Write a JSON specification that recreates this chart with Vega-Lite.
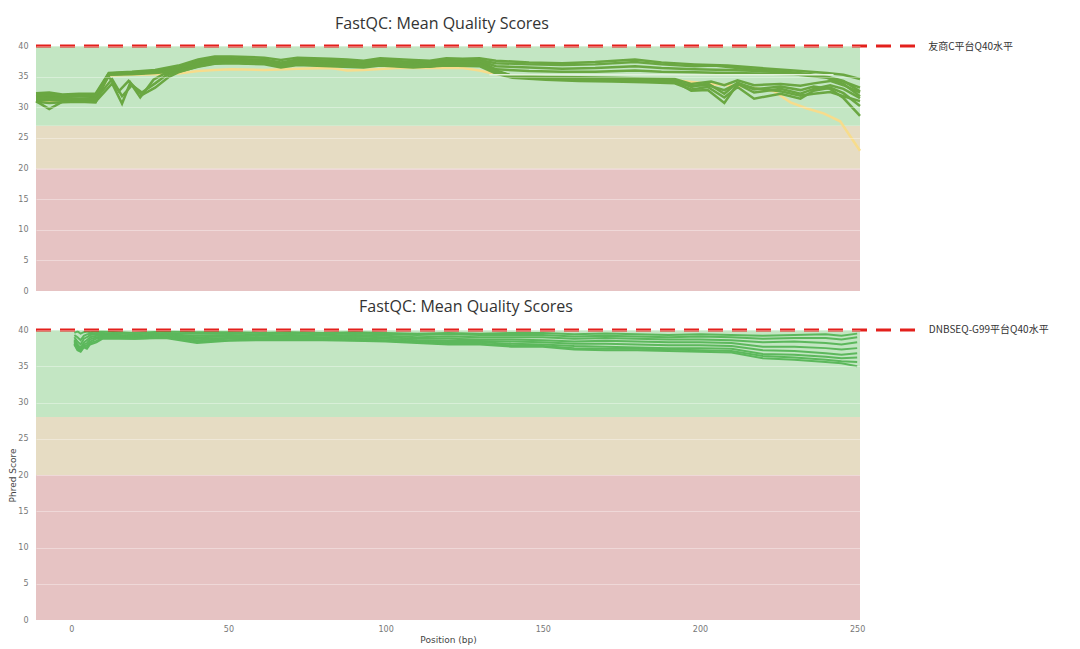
{
"$schema": "https://vega.github.io/schema/vega-lite/v6.json",
"background": "white",
"padding": {"left": 8, "top": 16, "right": 5, "bottom": 4},
"spacing": 4,
"config": {
 "view": {"stroke": null},
 "axis": {"domain": false, "ticks": false, "labelColor": "#777", "labelFont": "DejaVu Sans", "labelFontSize": 8, "gridColor": "#ffffff", "gridOpacity": 0.35, "titleFont": "DejaVu Sans", "titleFontSize": 9, "titleColor": "#444", "titleFontWeight": "normal"},
 "title": {"font": "Open Sans", "fontSize": 16, "fontWeight": "normal", "color": "#333", "anchor": "middle"}
},
"datasets": {
 "zt": [{"z":"fail","lo":0,"hi":20},{"z":"warn","lo":20,"hi":27},{"z":"pass","lo":27,"hi":40}],
 "zb": [{"z":"fail","lo":0,"hi":20},{"z":"warn","lo":20,"hi":28},{"z":"pass","lo":28,"hi":40}],
 "rt": [{"q":40,"label":"友商C平台Q40水平"}],
 "rb": [{"q":40,"label":"DNBSEQ-G99平台Q40水平"}],
 "top": [
{"s":"Y1","k":"w","x":1,"y":31.1},{"s":"Y1","k":"w","x":5,"y":31.0},{"s":"Y1","k":"w","x":9,"y":31.0},{"s":"Y1","k":"w","x":14,"y":31.1},{"s":"Y1","k":"w","x":19,"y":31.0},{"s":"Y1","k":"w","x":23,"y":35.2},{"s":"Y1","k":"w","x":30,"y":35.3},{"s":"Y1","k":"w","x":37,"y":35.4},{"s":"Y1","k":"w","x":44,"y":35.5},{"s":"Y1","k":"w","x":50,"y":35.9},{"s":"Y1","k":"w","x":55,"y":36.1},{"s":"Y1","k":"w","x":60,"y":36.2},{"s":"Y1","k":"w","x":70,"y":36.1},{"s":"Y1","k":"w","x":80,"y":36.3},{"s":"Y1","k":"w","x":90,"y":36.4},{"s":"Y1","k":"w","x":95,"y":36.0},{"s":"Y1","k":"w","x":100,"y":36.1},{"s":"Y1","k":"w","x":110,"y":36.4},{"s":"Y1","k":"w","x":120,"y":36.4},{"s":"Y1","k":"w","x":130,"y":36.4},{"s":"Y1","k":"w","x":135,"y":36.0},{"s":"Y1","k":"w","x":140,"y":35.4},{"s":"Y1","k":"w","x":150,"y":34.9},{"s":"Y1","k":"w","x":165,"y":34.7},{"s":"Y1","k":"w","x":180,"y":34.6},{"s":"Y1","k":"w","x":194,"y":34.4},{"s":"Y1","k":"w","x":205,"y":33.8},{"s":"Y1","k":"w","x":215,"y":33.4},{"s":"Y1","k":"w","x":224,"y":32.6},{"s":"Y1","k":"w","x":229,"y":30.8},{"s":"Y1","k":"w","x":234,"y":29.8},{"s":"Y1","k":"w","x":239,"y":29.0},{"s":"Y1","k":"w","x":244,"y":27.7},{"s":"Y1","k":"w","x":250,"y":22.9},
{"s":"U1","k":"p","x":1,"y":32.3},{"s":"U1","k":"p","x":5,"y":32.4},{"s":"U1","k":"p","x":9,"y":32.1},{"s":"U1","k":"p","x":14,"y":32.2},{"s":"U1","k":"p","x":19,"y":32.2},{"s":"U1","k":"p","x":23,"y":35.6},{"s":"U1","k":"p","x":30,"y":35.8},{"s":"U1","k":"p","x":37,"y":36.1},{"s":"U1","k":"p","x":44,"y":36.8},{"s":"U1","k":"p","x":50,"y":37.8},{"s":"U1","k":"p","x":55,"y":38.3},{"s":"U1","k":"p","x":60,"y":38.3},{"s":"U1","k":"p","x":65,"y":38.2},{"s":"U1","k":"p","x":70,"y":38.1},{"s":"U1","k":"p","x":75,"y":37.7},{"s":"U1","k":"p","x":80,"y":38.1},{"s":"U1","k":"p","x":90,"y":37.9},{"s":"U1","k":"p","x":95,"y":37.8},{"s":"U1","k":"p","x":100,"y":37.6},{"s":"U1","k":"p","x":105,"y":38.0},{"s":"U1","k":"p","x":115,"y":37.7},{"s":"U1","k":"p","x":120,"y":37.6},{"s":"U1","k":"p","x":125,"y":38.0},{"s":"U1","k":"p","x":130,"y":37.9},{"s":"U1","k":"p","x":135,"y":38.0},{"s":"U1","k":"p","x":140,"y":37.6},{"s":"U1","k":"p","x":150,"y":37.3},{"s":"U1","k":"p","x":160,"y":37.2},{"s":"U1","k":"p","x":170,"y":37.4},{"s":"U1","k":"p","x":182,"y":37.8},{"s":"U1","k":"p","x":190,"y":37.3},{"s":"U1","k":"p","x":200,"y":37.0},{"s":"U1","k":"p","x":210,"y":36.8},{"s":"U1","k":"p","x":220,"y":36.4},{"s":"U1","k":"p","x":230,"y":36.0},{"s":"U1","k":"p","x":240,"y":35.6},{"s":"U1","k":"p","x":245,"y":35.3},{"s":"U1","k":"p","x":250,"y":34.6},
{"s":"U2","k":"p","x":1,"y":31.8},{"s":"U2","k":"p","x":5,"y":31.9},{"s":"U2","k":"p","x":9,"y":31.7},{"s":"U2","k":"p","x":14,"y":31.8},{"s":"U2","k":"p","x":19,"y":31.8},{"s":"U2","k":"p","x":23,"y":35.5},{"s":"U2","k":"p","x":30,"y":35.7},{"s":"U2","k":"p","x":37,"y":35.9},{"s":"U2","k":"p","x":44,"y":36.5},{"s":"U2","k":"p","x":50,"y":37.5},{"s":"U2","k":"p","x":55,"y":38.0},{"s":"U2","k":"p","x":60,"y":38.0},{"s":"U2","k":"p","x":65,"y":37.8},{"s":"U2","k":"p","x":70,"y":37.8},{"s":"U2","k":"p","x":75,"y":37.3},{"s":"U2","k":"p","x":80,"y":37.8},{"s":"U2","k":"p","x":90,"y":37.6},{"s":"U2","k":"p","x":95,"y":37.5},{"s":"U2","k":"p","x":100,"y":37.3},{"s":"U2","k":"p","x":105,"y":37.7},{"s":"U2","k":"p","x":115,"y":37.4},{"s":"U2","k":"p","x":120,"y":37.3},{"s":"U2","k":"p","x":125,"y":37.7},{"s":"U2","k":"p","x":130,"y":37.6},{"s":"U2","k":"p","x":135,"y":37.7},{"s":"U2","k":"p","x":140,"y":37.2},{"s":"U2","k":"p","x":150,"y":37.0},{"s":"U2","k":"p","x":160,"y":36.9},{"s":"U2","k":"p","x":170,"y":37.0},{"s":"U2","k":"p","x":182,"y":37.4},{"s":"U2","k":"p","x":190,"y":37.0},{"s":"U2","k":"p","x":200,"y":36.7},{"s":"U2","k":"p","x":206,"y":36.8},{"s":"U2","k":"p","x":215,"y":36.3},{"s":"U2","k":"p","x":225,"y":35.9},{"s":"U2","k":"p","x":235,"y":35.4},{"s":"U2","k":"p","x":241,"y":34.8},{"s":"U2","k":"p","x":245,"y":34.2},{"s":"U2","k":"p","x":250,"y":33.2},
{"s":"U4","k":"p","x":1,"y":32.0},{"s":"U4","k":"p","x":9,"y":31.9},{"s":"U4","k":"p","x":19,"y":32.0},{"s":"U4","k":"p","x":23,"y":35.5},{"s":"U4","k":"p","x":37,"y":35.8},{"s":"U4","k":"p","x":44,"y":36.4},{"s":"U4","k":"p","x":50,"y":37.4},{"s":"U4","k":"p","x":55,"y":37.9},{"s":"U4","k":"p","x":60,"y":37.9},{"s":"U4","k":"p","x":70,"y":37.7},{"s":"U4","k":"p","x":75,"y":37.2},{"s":"U4","k":"p","x":80,"y":37.6},{"s":"U4","k":"p","x":90,"y":37.5},{"s":"U4","k":"p","x":100,"y":37.2},{"s":"U4","k":"p","x":105,"y":37.5},{"s":"U4","k":"p","x":115,"y":37.2},{"s":"U4","k":"p","x":125,"y":37.5},{"s":"U4","k":"p","x":135,"y":37.6},{"s":"U4","k":"p","x":140,"y":36.7},{"s":"U4","k":"p","x":150,"y":36.5},{"s":"U4","k":"p","x":160,"y":36.3},{"s":"U4","k":"p","x":170,"y":36.4},{"s":"U4","k":"p","x":182,"y":36.7},{"s":"U4","k":"p","x":190,"y":36.4},{"s":"U4","k":"p","x":200,"y":36.2},{"s":"U4","k":"p","x":210,"y":36.1},{"s":"U4","k":"p","x":220,"y":35.9},{"s":"U4","k":"p","x":230,"y":35.6},{"s":"U4","k":"p","x":240,"y":35.0},{"s":"U4","k":"p","x":245,"y":34.3},{"s":"U4","k":"p","x":250,"y":32.6},
{"s":"U3","k":"p","x":1,"y":31.4},{"s":"U3","k":"p","x":5,"y":31.5},{"s":"U3","k":"p","x":9,"y":31.5},{"s":"U3","k":"p","x":14,"y":31.4},{"s":"U3","k":"p","x":19,"y":31.5},{"s":"U3","k":"p","x":23,"y":35.4},{"s":"U3","k":"p","x":30,"y":35.5},{"s":"U3","k":"p","x":37,"y":35.7},{"s":"U3","k":"p","x":44,"y":36.2},{"s":"U3","k":"p","x":50,"y":37.2},{"s":"U3","k":"p","x":55,"y":37.7},{"s":"U3","k":"p","x":60,"y":37.8},{"s":"U3","k":"p","x":65,"y":37.5},{"s":"U3","k":"p","x":70,"y":37.6},{"s":"U3","k":"p","x":75,"y":37.0},{"s":"U3","k":"p","x":80,"y":37.5},{"s":"U3","k":"p","x":90,"y":37.3},{"s":"U3","k":"p","x":95,"y":37.1},{"s":"U3","k":"p","x":100,"y":37.0},{"s":"U3","k":"p","x":105,"y":37.4},{"s":"U3","k":"p","x":115,"y":37.1},{"s":"U3","k":"p","x":120,"y":37.0},{"s":"U3","k":"p","x":125,"y":37.4},{"s":"U3","k":"p","x":130,"y":37.4},{"s":"U3","k":"p","x":135,"y":37.5},{"s":"U3","k":"p","x":140,"y":36.2},{"s":"U3","k":"p","x":150,"y":35.9},{"s":"U3","k":"p","x":160,"y":35.8},{"s":"U3","k":"p","x":170,"y":35.8},{"s":"U3","k":"p","x":182,"y":36.0},{"s":"U3","k":"p","x":190,"y":35.8},{"s":"U3","k":"p","x":200,"y":35.7},{"s":"U3","k":"p","x":210,"y":35.6},{"s":"U3","k":"p","x":220,"y":35.5},{"s":"U3","k":"p","x":230,"y":35.4},{"s":"U3","k":"p","x":240,"y":34.8},{"s":"U3","k":"p","x":245,"y":33.8},{"s":"U3","k":"p","x":250,"y":31.8},
{"s":"L1","k":"p","x":1,"y":31.2},{"s":"L1","k":"p","x":5,"y":31.2},{"s":"L1","k":"p","x":9,"y":31.1},{"s":"L1","k":"p","x":14,"y":31.2},{"s":"L1","k":"p","x":19,"y":31.2},{"s":"L1","k":"p","x":23,"y":35.4},{"s":"L1","k":"p","x":30,"y":35.5},{"s":"L1","k":"p","x":37,"y":35.7},{"s":"L1","k":"p","x":44,"y":36.0},{"s":"L1","k":"p","x":50,"y":37.0},{"s":"L1","k":"p","x":55,"y":37.5},{"s":"L1","k":"p","x":60,"y":37.6},{"s":"L1","k":"p","x":65,"y":37.3},{"s":"L1","k":"p","x":70,"y":37.4},{"s":"L1","k":"p","x":75,"y":36.8},{"s":"L1","k":"p","x":80,"y":37.3},{"s":"L1","k":"p","x":90,"y":37.1},{"s":"L1","k":"p","x":95,"y":36.8},{"s":"L1","k":"p","x":100,"y":36.8},{"s":"L1","k":"p","x":105,"y":37.2},{"s":"L1","k":"p","x":115,"y":36.9},{"s":"L1","k":"p","x":120,"y":36.8},{"s":"L1","k":"p","x":125,"y":37.2},{"s":"L1","k":"p","x":130,"y":37.2},{"s":"L1","k":"p","x":135,"y":37.2},{"s":"L1","k":"p","x":140,"y":36.0},{"s":"L1","k":"p","x":145,"y":35.1},{"s":"L1","k":"p","x":155,"y":35.0},{"s":"L1","k":"p","x":165,"y":34.9},{"s":"L1","k":"p","x":175,"y":34.8},{"s":"L1","k":"p","x":185,"y":34.7},{"s":"L1","k":"p","x":194,"y":34.6},{"s":"L1","k":"p","x":199,"y":33.8},{"s":"L1","k":"p","x":205,"y":34.2},{"s":"L1","k":"p","x":209,"y":33.6},{"s":"L1","k":"p","x":213,"y":34.4},{"s":"L1","k":"p","x":218,"y":33.6},{"s":"L1","k":"p","x":226,"y":33.8},{"s":"L1","k":"p","x":232,"y":33.5},{"s":"L1","k":"p","x":236,"y":33.9},{"s":"L1","k":"p","x":241,"y":34.3},{"s":"L1","k":"p","x":245,"y":33.6},{"s":"L1","k":"p","x":250,"y":32.4},
{"s":"L2","k":"p","x":1,"y":30.9},{"s":"L2","k":"p","x":5,"y":30.7},{"s":"L2","k":"p","x":9,"y":30.8},{"s":"L2","k":"p","x":14,"y":30.9},{"s":"L2","k":"p","x":19,"y":30.8},{"s":"L2","k":"p","x":23,"y":35.3},{"s":"L2","k":"p","x":30,"y":35.4},{"s":"L2","k":"p","x":37,"y":35.6},{"s":"L2","k":"p","x":44,"y":35.9},{"s":"L2","k":"p","x":50,"y":36.8},{"s":"L2","k":"p","x":55,"y":37.3},{"s":"L2","k":"p","x":60,"y":37.4},{"s":"L2","k":"p","x":65,"y":37.1},{"s":"L2","k":"p","x":70,"y":37.2},{"s":"L2","k":"p","x":75,"y":36.6},{"s":"L2","k":"p","x":80,"y":37.1},{"s":"L2","k":"p","x":90,"y":36.9},{"s":"L2","k":"p","x":95,"y":36.6},{"s":"L2","k":"p","x":100,"y":36.6},{"s":"L2","k":"p","x":105,"y":37.0},{"s":"L2","k":"p","x":115,"y":36.7},{"s":"L2","k":"p","x":120,"y":36.6},{"s":"L2","k":"p","x":125,"y":37.0},{"s":"L2","k":"p","x":130,"y":37.0},{"s":"L2","k":"p","x":135,"y":36.9},{"s":"L2","k":"p","x":140,"y":35.7},{"s":"L2","k":"p","x":145,"y":35.0},{"s":"L2","k":"p","x":155,"y":34.7},{"s":"L2","k":"p","x":165,"y":34.6},{"s":"L2","k":"p","x":175,"y":34.5},{"s":"L2","k":"p","x":185,"y":34.4},{"s":"L2","k":"p","x":194,"y":34.2},{"s":"L2","k":"p","x":199,"y":32.7},{"s":"L2","k":"p","x":204,"y":32.8},{"s":"L2","k":"p","x":209,"y":30.7},{"s":"L2","k":"p","x":213,"y":33.8},{"s":"L2","k":"p","x":218,"y":32.4},{"s":"L2","k":"p","x":226,"y":33.0},{"s":"L2","k":"p","x":232,"y":32.2},{"s":"L2","k":"p","x":236,"y":33.0},{"s":"L2","k":"p","x":241,"y":33.6},{"s":"L2","k":"p","x":245,"y":33.0},{"s":"L2","k":"p","x":250,"y":31.5},
{"s":"V1","k":"p","x":1,"y":31.0},{"s":"V1","k":"p","x":5,"y":29.7},{"s":"V1","k":"p","x":9,"y":30.9},{"s":"V1","k":"p","x":14,"y":31.0},{"s":"V1","k":"p","x":19,"y":30.9},{"s":"V1","k":"p","x":24,"y":33.9},{"s":"V1","k":"p","x":27,"y":30.6},{"s":"V1","k":"p","x":29.5,"y":34.0},{"s":"V1","k":"p","x":32.5,"y":31.6},{"s":"V1","k":"p","x":36.5,"y":34.5},{"s":"V1","k":"p","x":39.5,"y":35.4},{"s":"V1","k":"p","x":44,"y":35.8},{"s":"V1","k":"p","x":50,"y":36.6},{"s":"V1","k":"p","x":55,"y":37.1},{"s":"V1","k":"p","x":60,"y":37.2},{"s":"V1","k":"p","x":70,"y":37.0},{"s":"V1","k":"p","x":75,"y":36.5},{"s":"V1","k":"p","x":80,"y":36.9},{"s":"V1","k":"p","x":90,"y":36.7},{"s":"V1","k":"p","x":100,"y":36.5},{"s":"V1","k":"p","x":105,"y":36.8},{"s":"V1","k":"p","x":115,"y":36.5},{"s":"V1","k":"p","x":125,"y":36.8},{"s":"V1","k":"p","x":135,"y":36.7},{"s":"V1","k":"p","x":140,"y":35.5},{"s":"V1","k":"p","x":145,"y":34.8},{"s":"V1","k":"p","x":155,"y":34.5},{"s":"V1","k":"p","x":165,"y":34.3},{"s":"V1","k":"p","x":175,"y":34.2},{"s":"V1","k":"p","x":185,"y":34.1},{"s":"V1","k":"p","x":194,"y":33.9},{"s":"V1","k":"p","x":199,"y":32.9},{"s":"V1","k":"p","x":204,"y":33.3},{"s":"V1","k":"p","x":209,"y":31.6},{"s":"V1","k":"p","x":213,"y":33.3},{"s":"V1","k":"p","x":218,"y":31.4},{"s":"V1","k":"p","x":226,"y":32.2},{"s":"V1","k":"p","x":232,"y":31.4},{"s":"V1","k":"p","x":236,"y":32.7},{"s":"V1","k":"p","x":241,"y":33.2},{"s":"V1","k":"p","x":245,"y":32.3},{"s":"V1","k":"p","x":250,"y":30.2},
{"s":"V2","k":"p","x":1,"y":31.5},{"s":"V2","k":"p","x":5,"y":31.4},{"s":"V2","k":"p","x":9,"y":31.3},{"s":"V2","k":"p","x":14,"y":31.4},{"s":"V2","k":"p","x":19,"y":31.3},{"s":"V2","k":"p","x":24,"y":34.6},{"s":"V2","k":"p","x":27,"y":31.8},{"s":"V2","k":"p","x":30,"y":33.6},{"s":"V2","k":"p","x":33,"y":32.4},{"s":"V2","k":"p","x":37,"y":33.9},{"s":"V2","k":"p","x":40,"y":35.1},{"s":"V2","k":"p","x":44,"y":35.9},{"s":"V2","k":"p","x":50,"y":36.9},{"s":"V2","k":"p","x":55,"y":37.4},{"s":"V2","k":"p","x":60,"y":37.5},{"s":"V2","k":"p","x":70,"y":37.3},{"s":"V2","k":"p","x":75,"y":36.9},{"s":"V2","k":"p","x":80,"y":37.2},{"s":"V2","k":"p","x":90,"y":37.0},{"s":"V2","k":"p","x":100,"y":36.9},{"s":"V2","k":"p","x":105,"y":37.1},{"s":"V2","k":"p","x":115,"y":36.8},{"s":"V2","k":"p","x":125,"y":37.1},{"s":"V2","k":"p","x":135,"y":37.1},{"s":"V2","k":"p","x":140,"y":35.9},{"s":"V2","k":"p","x":145,"y":35.1},{"s":"V2","k":"p","x":155,"y":34.8},{"s":"V2","k":"p","x":165,"y":34.7},{"s":"V2","k":"p","x":175,"y":34.6},{"s":"V2","k":"p","x":185,"y":34.5},{"s":"V2","k":"p","x":194,"y":34.4},{"s":"V2","k":"p","x":199,"y":33.3},{"s":"V2","k":"p","x":204,"y":33.9},{"s":"V2","k":"p","x":209,"y":32.2},{"s":"V2","k":"p","x":213,"y":34.0},{"s":"V2","k":"p","x":218,"y":32.9},{"s":"V2","k":"p","x":226,"y":33.4},{"s":"V2","k":"p","x":232,"y":32.8},{"s":"V2","k":"p","x":236,"y":33.4},{"s":"V2","k":"p","x":241,"y":33.0},{"s":"V2","k":"p","x":245,"y":31.5},{"s":"V2","k":"p","x":250,"y":28.6},
{"s":"V3","k":"p","x":1,"y":32.0},{"s":"V3","k":"p","x":5,"y":32.1},{"s":"V3","k":"p","x":9,"y":31.9},{"s":"V3","k":"p","x":14,"y":32.0},{"s":"V3","k":"p","x":19,"y":31.9},{"s":"V3","k":"p","x":23,"y":35.0},{"s":"V3","k":"p","x":26,"y":32.6},{"s":"V3","k":"p","x":29,"y":34.3},{"s":"V3","k":"p","x":33,"y":32.0},{"s":"V3","k":"p","x":37,"y":33.2},{"s":"V3","k":"p","x":41,"y":34.9},{"s":"V3","k":"p","x":44,"y":35.7},{"s":"V3","k":"p","x":50,"y":36.7},{"s":"V3","k":"p","x":55,"y":37.2},{"s":"V3","k":"p","x":60,"y":37.3},{"s":"V3","k":"p","x":70,"y":37.2},{"s":"V3","k":"p","x":75,"y":36.7},{"s":"V3","k":"p","x":80,"y":37.0},{"s":"V3","k":"p","x":90,"y":36.8},{"s":"V3","k":"p","x":100,"y":36.7},{"s":"V3","k":"p","x":105,"y":36.9},{"s":"V3","k":"p","x":115,"y":36.6},{"s":"V3","k":"p","x":125,"y":37.0},{"s":"V3","k":"p","x":135,"y":36.9},{"s":"V3","k":"p","x":140,"y":35.8},{"s":"V3","k":"p","x":145,"y":35.1},{"s":"V3","k":"p","x":155,"y":34.9},{"s":"V3","k":"p","x":165,"y":34.5},{"s":"V3","k":"p","x":175,"y":34.4},{"s":"V3","k":"p","x":185,"y":34.3},{"s":"V3","k":"p","x":194,"y":34.1},{"s":"V3","k":"p","x":199,"y":33.5},{"s":"V3","k":"p","x":204,"y":33.6},{"s":"V3","k":"p","x":209,"y":32.8},{"s":"V3","k":"p","x":213,"y":33.9},{"s":"V3","k":"p","x":218,"y":33.1},{"s":"V3","k":"p","x":226,"y":32.6},{"s":"V3","k":"p","x":232,"y":31.9},{"s":"V3","k":"p","x":236,"y":32.2},{"s":"V3","k":"p","x":241,"y":32.5},{"s":"V3","k":"p","x":245,"y":31.8},{"s":"V3","k":"p","x":250,"y":31.0},
{"s":"F","k":"f","x":138,"y":35.3},{"s":"F","k":"f","x":242,"y":35.3}
 ],
 "bot": [
{"s":"b1","x":1,"y":39.6},{"s":"b1","x":2,"y":39.8},{"s":"b1","x":3,"y":39.5},{"s":"b1","x":4,"y":39.7},{"s":"b1","x":5,"y":39.8},{"s":"b1","x":6,"y":39.7},{"s":"b1","x":8,"y":39.8},{"s":"b1","x":10,"y":39.8},{"s":"b1","x":15,"y":39.7},{"s":"b1","x":20,"y":39.6},{"s":"b1","x":30,"y":39.8},{"s":"b1","x":40,"y":39.7},{"s":"b1","x":50,"y":39.7},{"s":"b1","x":60,"y":39.6},{"s":"b1","x":70,"y":39.7},{"s":"b1","x":80,"y":39.6},{"s":"b1","x":90,"y":39.7},{"s":"b1","x":100,"y":39.6},{"s":"b1","x":110,"y":39.5},{"s":"b1","x":120,"y":39.6},{"s":"b1","x":130,"y":39.5},{"s":"b1","x":140,"y":39.6},{"s":"b1","x":150,"y":39.6},{"s":"b1","x":160,"y":39.4},{"s":"b1","x":170,"y":39.5},{"s":"b1","x":180,"y":39.4},{"s":"b1","x":190,"y":39.3},{"s":"b1","x":200,"y":39.4},{"s":"b1","x":210,"y":39.3},{"s":"b1","x":220,"y":39.2},{"s":"b1","x":230,"y":39.3},{"s":"b1","x":240,"y":39.4},{"s":"b1","x":245,"y":39.2},{"s":"b1","x":250,"y":39.5},
{"s":"b2","x":1,"y":39.3},{"s":"b2","x":2,"y":39.0},{"s":"b2","x":3,"y":38.6},{"s":"b2","x":4,"y":39.2},{"s":"b2","x":5,"y":39.4},{"s":"b2","x":6,"y":39.5},{"s":"b2","x":8,"y":39.6},{"s":"b2","x":10,"y":39.6},{"s":"b2","x":15,"y":39.5},{"s":"b2","x":20,"y":39.4},{"s":"b2","x":30,"y":39.6},{"s":"b2","x":40,"y":39.5},{"s":"b2","x":50,"y":39.5},{"s":"b2","x":60,"y":39.4},{"s":"b2","x":70,"y":39.5},{"s":"b2","x":80,"y":39.4},{"s":"b2","x":90,"y":39.5},{"s":"b2","x":100,"y":39.4},{"s":"b2","x":110,"y":39.3},{"s":"b2","x":120,"y":39.4},{"s":"b2","x":130,"y":39.3},{"s":"b2","x":140,"y":39.3},{"s":"b2","x":150,"y":39.3},{"s":"b2","x":160,"y":39.1},{"s":"b2","x":170,"y":39.2},{"s":"b2","x":180,"y":39.1},{"s":"b2","x":190,"y":39.0},{"s":"b2","x":200,"y":39.1},{"s":"b2","x":210,"y":39.0},{"s":"b2","x":220,"y":38.8},{"s":"b2","x":230,"y":38.9},{"s":"b2","x":240,"y":38.9},{"s":"b2","x":245,"y":38.7},{"s":"b2","x":250,"y":39.0},
{"s":"b3","x":1,"y":39.0},{"s":"b3","x":2,"y":38.4},{"s":"b3","x":3,"y":38.0},{"s":"b3","x":4,"y":38.8},{"s":"b3","x":5,"y":39.0},{"s":"b3","x":6,"y":39.3},{"s":"b3","x":8,"y":39.4},{"s":"b3","x":10,"y":39.4},{"s":"b3","x":15,"y":39.3},{"s":"b3","x":20,"y":39.2},{"s":"b3","x":30,"y":39.4},{"s":"b3","x":40,"y":39.2},{"s":"b3","x":50,"y":39.3},{"s":"b3","x":60,"y":39.2},{"s":"b3","x":70,"y":39.3},{"s":"b3","x":80,"y":39.2},{"s":"b3","x":90,"y":39.3},{"s":"b3","x":100,"y":39.2},{"s":"b3","x":110,"y":39.0},{"s":"b3","x":120,"y":39.1},{"s":"b3","x":130,"y":39.0},{"s":"b3","x":140,"y":39.0},{"s":"b3","x":150,"y":39.0},{"s":"b3","x":160,"y":38.8},{"s":"b3","x":170,"y":38.9},{"s":"b3","x":180,"y":38.8},{"s":"b3","x":190,"y":38.7},{"s":"b3","x":200,"y":38.7},{"s":"b3","x":210,"y":38.6},{"s":"b3","x":220,"y":38.3},{"s":"b3","x":230,"y":38.4},{"s":"b3","x":240,"y":38.2},{"s":"b3","x":245,"y":38.0},{"s":"b3","x":250,"y":38.3},
{"s":"b4","x":1,"y":38.7},{"s":"b4","x":2,"y":38.0},{"s":"b4","x":3,"y":37.5},{"s":"b4","x":4,"y":38.3},{"s":"b4","x":5,"y":38.6},{"s":"b4","x":6,"y":39.0},{"s":"b4","x":8,"y":39.2},{"s":"b4","x":10,"y":39.3},{"s":"b4","x":15,"y":39.2},{"s":"b4","x":20,"y":39.1},{"s":"b4","x":30,"y":39.3},{"s":"b4","x":40,"y":39.0},{"s":"b4","x":50,"y":39.1},{"s":"b4","x":60,"y":39.0},{"s":"b4","x":70,"y":39.1},{"s":"b4","x":80,"y":39.0},{"s":"b4","x":90,"y":39.1},{"s":"b4","x":100,"y":39.0},{"s":"b4","x":110,"y":38.8},{"s":"b4","x":120,"y":38.8},{"s":"b4","x":130,"y":38.7},{"s":"b4","x":140,"y":38.7},{"s":"b4","x":150,"y":38.6},{"s":"b4","x":160,"y":38.4},{"s":"b4","x":170,"y":38.5},{"s":"b4","x":180,"y":38.4},{"s":"b4","x":190,"y":38.3},{"s":"b4","x":200,"y":38.3},{"s":"b4","x":210,"y":38.2},{"s":"b4","x":220,"y":37.7},{"s":"b4","x":230,"y":37.7},{"s":"b4","x":240,"y":37.5},{"s":"b4","x":245,"y":37.3},{"s":"b4","x":250,"y":37.5},
{"s":"b5","x":1,"y":38.5},{"s":"b5","x":2,"y":37.8},{"s":"b5","x":3,"y":37.3},{"s":"b5","x":4,"y":38.0},{"s":"b5","x":5,"y":38.2},{"s":"b5","x":6,"y":38.7},{"s":"b5","x":8,"y":39.0},{"s":"b5","x":10,"y":39.1},{"s":"b5","x":15,"y":39.1},{"s":"b5","x":20,"y":39.0},{"s":"b5","x":30,"y":39.2},{"s":"b5","x":40,"y":38.8},{"s":"b5","x":50,"y":38.9},{"s":"b5","x":60,"y":38.9},{"s":"b5","x":70,"y":38.9},{"s":"b5","x":80,"y":38.9},{"s":"b5","x":90,"y":38.9},{"s":"b5","x":100,"y":38.8},{"s":"b5","x":110,"y":38.6},{"s":"b5","x":120,"y":38.5},{"s":"b5","x":130,"y":38.5},{"s":"b5","x":140,"y":38.4},{"s":"b5","x":150,"y":38.3},{"s":"b5","x":160,"y":38.1},{"s":"b5","x":170,"y":38.1},{"s":"b5","x":180,"y":38.0},{"s":"b5","x":190,"y":37.9},{"s":"b5","x":200,"y":37.9},{"s":"b5","x":210,"y":37.8},{"s":"b5","x":220,"y":37.2},{"s":"b5","x":230,"y":37.1},{"s":"b5","x":240,"y":36.8},{"s":"b5","x":245,"y":36.6},{"s":"b5","x":250,"y":36.8},
{"s":"b6","x":1,"y":38.3},{"s":"b6","x":2,"y":37.5},{"s":"b6","x":3,"y":37.2},{"s":"b6","x":4,"y":37.8},{"s":"b6","x":5,"y":37.9},{"s":"b6","x":6,"y":38.4},{"s":"b6","x":8,"y":38.8},{"s":"b6","x":10,"y":39.0},{"s":"b6","x":15,"y":39.0},{"s":"b6","x":20,"y":38.9},{"s":"b6","x":30,"y":39.1},{"s":"b6","x":40,"y":38.6},{"s":"b6","x":50,"y":38.8},{"s":"b6","x":60,"y":38.8},{"s":"b6","x":70,"y":38.8},{"s":"b6","x":80,"y":38.8},{"s":"b6","x":90,"y":38.7},{"s":"b6","x":100,"y":38.6},{"s":"b6","x":110,"y":38.4},{"s":"b6","x":120,"y":38.3},{"s":"b6","x":130,"y":38.3},{"s":"b6","x":140,"y":38.1},{"s":"b6","x":150,"y":38.0},{"s":"b6","x":160,"y":37.8},{"s":"b6","x":170,"y":37.7},{"s":"b6","x":180,"y":37.6},{"s":"b6","x":190,"y":37.5},{"s":"b6","x":200,"y":37.5},{"s":"b6","x":210,"y":37.4},{"s":"b6","x":220,"y":36.7},{"s":"b6","x":230,"y":36.6},{"s":"b6","x":240,"y":36.3},{"s":"b6","x":245,"y":36.1},{"s":"b6","x":250,"y":36.2},
{"s":"b7","x":1,"y":38.1},{"s":"b7","x":2,"y":37.3},{"s":"b7","x":3,"y":37.1},{"s":"b7","x":4,"y":37.7},{"s":"b7","x":5,"y":37.6},{"s":"b7","x":6,"y":38.2},{"s":"b7","x":8,"y":38.5},{"s":"b7","x":10,"y":38.9},{"s":"b7","x":15,"y":38.9},{"s":"b7","x":20,"y":38.8},{"s":"b7","x":30,"y":39.0},{"s":"b7","x":40,"y":38.4},{"s":"b7","x":50,"y":38.6},{"s":"b7","x":60,"y":38.7},{"s":"b7","x":70,"y":38.7},{"s":"b7","x":80,"y":38.7},{"s":"b7","x":90,"y":38.6},{"s":"b7","x":100,"y":38.5},{"s":"b7","x":110,"y":38.3},{"s":"b7","x":120,"y":38.1},{"s":"b7","x":130,"y":38.1},{"s":"b7","x":140,"y":37.9},{"s":"b7","x":150,"y":37.8},{"s":"b7","x":160,"y":37.5},{"s":"b7","x":170,"y":37.4},{"s":"b7","x":180,"y":37.4},{"s":"b7","x":190,"y":37.3},{"s":"b7","x":200,"y":37.2},{"s":"b7","x":210,"y":37.1},{"s":"b7","x":220,"y":36.4},{"s":"b7","x":230,"y":36.2},{"s":"b7","x":240,"y":35.9},{"s":"b7","x":245,"y":35.7},{"s":"b7","x":250,"y":35.6},
{"s":"b8","x":1,"y":38.0},{"s":"b8","x":2,"y":37.2},{"s":"b8","x":3,"y":37.0},{"s":"b8","x":4,"y":37.6},{"s":"b8","x":5,"y":37.4},{"s":"b8","x":6,"y":38.0},{"s":"b8","x":8,"y":38.3},{"s":"b8","x":10,"y":38.8},{"s":"b8","x":15,"y":38.8},{"s":"b8","x":20,"y":38.8},{"s":"b8","x":30,"y":38.9},{"s":"b8","x":40,"y":38.2},{"s":"b8","x":50,"y":38.5},{"s":"b8","x":60,"y":38.6},{"s":"b8","x":70,"y":38.6},{"s":"b8","x":80,"y":38.6},{"s":"b8","x":90,"y":38.5},{"s":"b8","x":100,"y":38.4},{"s":"b8","x":110,"y":38.2},{"s":"b8","x":120,"y":38.0},{"s":"b8","x":130,"y":38.0},{"s":"b8","x":140,"y":37.7},{"s":"b8","x":150,"y":37.7},{"s":"b8","x":160,"y":37.3},{"s":"b8","x":170,"y":37.2},{"s":"b8","x":180,"y":37.2},{"s":"b8","x":190,"y":37.1},{"s":"b8","x":200,"y":37.0},{"s":"b8","x":210,"y":36.9},{"s":"b8","x":220,"y":36.1},{"s":"b8","x":230,"y":35.9},{"s":"b8","x":240,"y":35.6},{"s":"b8","x":245,"y":35.4},{"s":"b8","x":250,"y":35.0}
 ]
},
"vconcat": [
 {
  "width": 824, "height": 245,
  "title": {"text": "FastQC: Mean Quality Scores", "offset": 10, "dx": -6},
  "layer": [
   {"data": {"name": "zt"}, "mark": {"type": "rect"},
    "encoding": {
     "x": {"datum": 1, "type": "quantitative", "scale": {"domain": [1, 250], "nice": false, "zero": false}, "axis": null},
     "x2": {"datum": 250},
     "y": {"field": "lo", "type": "quantitative", "scale": {"domain": [0, 40], "nice": false}, "axis": {"values": [0,5,10,15,20,25,30,35,40], "tickCount": 12, "labelOverlap": false, "title": null, "labelPadding": 8, "grid": true, "zindex": 1}},
     "y2": {"field": "hi"},
     "fill": {"field": "z", "type": "nominal", "scale": {"domain": ["fail","warn","pass"], "range": ["#e6c3c3","#e6dcc3","#c3e6c3"]}, "legend": null}
    }},
   {"data": {"name": "top"}, "transform": [{"filter": {"field": "k", "equal": "w"}}],
    "mark": {"type": "line", "color": "#f7dc8c", "strokeWidth": 2.5},
    "encoding": {"x": {"field": "x", "type": "quantitative"}, "y": {"field": "y", "type": "quantitative"}, "detail": {"field": "s"}}},
   {"data": {"name": "top"}, "transform": [{"filter": {"field": "k", "equal": "p"}}],
    "mark": {"type": "line", "color": "#6aa742", "strokeWidth": 2.5},
    "encoding": {"x": {"field": "x", "type": "quantitative"}, "y": {"field": "y", "type": "quantitative"}, "detail": {"field": "s"}}},
   {"data": {"name": "top"}, "transform": [{"filter": {"field": "k", "equal": "f"}}],
    "mark": {"type": "line", "color": "#e2f1dc", "strokeWidth": 1.5},
    "encoding": {"x": {"field": "x", "type": "quantitative"}, "y": {"field": "y", "type": "quantitative"}, "detail": {"field": "s"}}},
   {"data": {"name": "rt"}, "mark": {"type": "rule", "color": "#e3201c", "strokeWidth": 3, "strokeDash": [15, 9]},
    "encoding": {"x": {"datum": 1}, "x2": {"datum": 267.2}, "y": {"field": "q", "type": "quantitative"}}},
   {"data": {"name": "rt"}, "mark": {"type": "text", "align": "left", "baseline": "middle", "font": "Noto Sans CJK SC", "fontSize": 10, "color": "#333", "dy": 1},
    "encoding": {"x": {"datum": 270.6}, "y": {"field": "q", "type": "quantitative"}, "text": {"field": "label"}}}
  ]
 },
 {
  "width": 824, "height": 290,
  "title": {"text": "FastQC: Mean Quality Scores", "offset": 10, "dx": 18},
  "layer": [
   {"data": {"name": "zb"}, "mark": {"type": "rect"},
    "encoding": {
     "x": {"datum": -11.2, "type": "quantitative", "scale": {"domain": [-11.2, 250.9], "nice": false, "zero": false}, "axis": {"values": [0,50,100,150,200,250], "title": "Position (bp)", "grid": false, "labelPadding": 5, "titlePadding": 2}},
     "x2": {"datum": 250.9},
     "y": {"field": "lo", "type": "quantitative", "scale": {"domain": [0, 40], "nice": false}, "axis": {"values": [0,5,10,15,20,25,30,35,40], "tickCount": 12, "labelOverlap": false, "title": "Phred Score", "labelPadding": 8, "titlePadding": 0, "grid": true, "zindex": 1}},
     "y2": {"field": "hi"},
     "fill": {"field": "z", "type": "nominal", "scale": {"domain": ["fail","warn","pass"], "range": ["#e6c3c3","#e6dcc3","#c3e6c3"]}, "legend": null}
    }},
   {"data": {"name": "bot"},
    "mark": {"type": "line", "color": "#5cb85c", "strokeWidth": 2},
    "encoding": {"x": {"field": "x", "type": "quantitative"}, "y": {"field": "y", "type": "quantitative"}, "detail": {"field": "s"}}},
   {"data": {"name": "rb"}, "mark": {"type": "rule", "color": "#e3201c", "strokeWidth": 3, "strokeDash": [15, 9]},
    "encoding": {"x": {"datum": -11.2}, "x2": {"datum": 269.4}, "y": {"field": "q", "type": "quantitative"}}},
   {"data": {"name": "rb"}, "mark": {"type": "text", "align": "left", "baseline": "middle", "font": "Noto Sans CJK SC", "fontSize": 10, "color": "#333", "dy": 0},
    "encoding": {"x": {"datum": 272.8}, "y": {"field": "q", "type": "quantitative"}, "text": {"field": "label"}}}
  ]
 }
]
}
